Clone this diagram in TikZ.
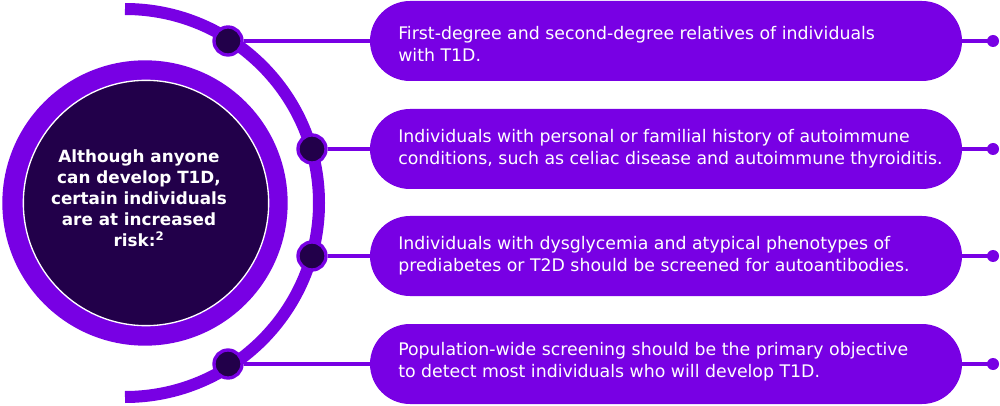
\documentclass[tikz,border=0pt]{standalone}
\usepackage{fontspec}
\setmainfont{DejaVu Sans}
\definecolor{vio}{HTML}{7800E4}
\definecolor{deep}{HTML}{22004A}
\begin{document}
\begin{tikzpicture}[x=0.75pt,y=-0.75pt,
  pill/.style={fill=vio,rounded corners=30pt,minimum width=444pt,minimum height=60pt,inner sep=0pt},
  txt/.style={text=white,align=left,font=\fontsize{13}{16.5}\selectfont,anchor=west,inner sep=0pt},
  dot/.style={circle,fill=deep,draw=vio,line width=2.5pt,minimum size=21pt,inner sep=0pt},
  sdot/.style={circle,fill=vio,minimum size=9pt,inner sep=0pt},
  link/.style={vio,line width=2.3pt}]
\useasboundingbox (0,0) rectangle (1000,406);
% big arc
\draw[vio,line width=9pt] (125,9) arc[start angle=-90,end angle=90,radius=194];
% inner circle
\node[circle,fill=vio,minimum size=214pt,inner sep=0pt] (outer) at (145,203) {};
\node[circle,fill=deep,draw=white,line width=1pt,minimum size=184pt,inner sep=0pt] (core) at (146,203) {};
\node[text=white,align=center,font=\bfseries\fontsize{12.6}{15.8}\selectfont] (ct) at (139,198) {Although anyone\\can develop T1D,\\certain individuals\\are at increased\\risk:\textsuperscript{2}};
% pills
\foreach \i/\y in {1/41,2/149,3/256,4/364}{
  \node[pill] (p\i) at (666,\y) {};
  \coordinate (e\i) at (993,\y);
  \draw[link] (p\i.east) -- (e\i);
  \node[sdot] (s\i) at (e\i) {};
}
\node[dot] (d1) at (228,41) {};
\node[dot] (d2) at (312,149) {};
\node[dot] (d3) at (312,256) {};
\node[dot] (d4) at (228,364) {};
\foreach \i in {1,2,3,4}{\draw[link] (d\i.east) -- (p\i.west);}
\node[txt] (t1) at (398,44) {First-degree and second-degree relatives of individuals\\with T1D.};
\node[txt] (t2) at (398,149) {Individuals with personal or familial history of autoimmune\\conditions, such as celiac disease and autoimmune thyroiditis.};
\node[txt] (t3) at (398,256) {Individuals with dysglycemia and atypical phenotypes of\\prediabetes or T2D should be screened for autoantibodies.};
\node[txt] (t4) at (398,362) {Population-wide screening should be the primary objective\\to detect most individuals who will develop T1D.};
\end{tikzpicture}
\end{document}
